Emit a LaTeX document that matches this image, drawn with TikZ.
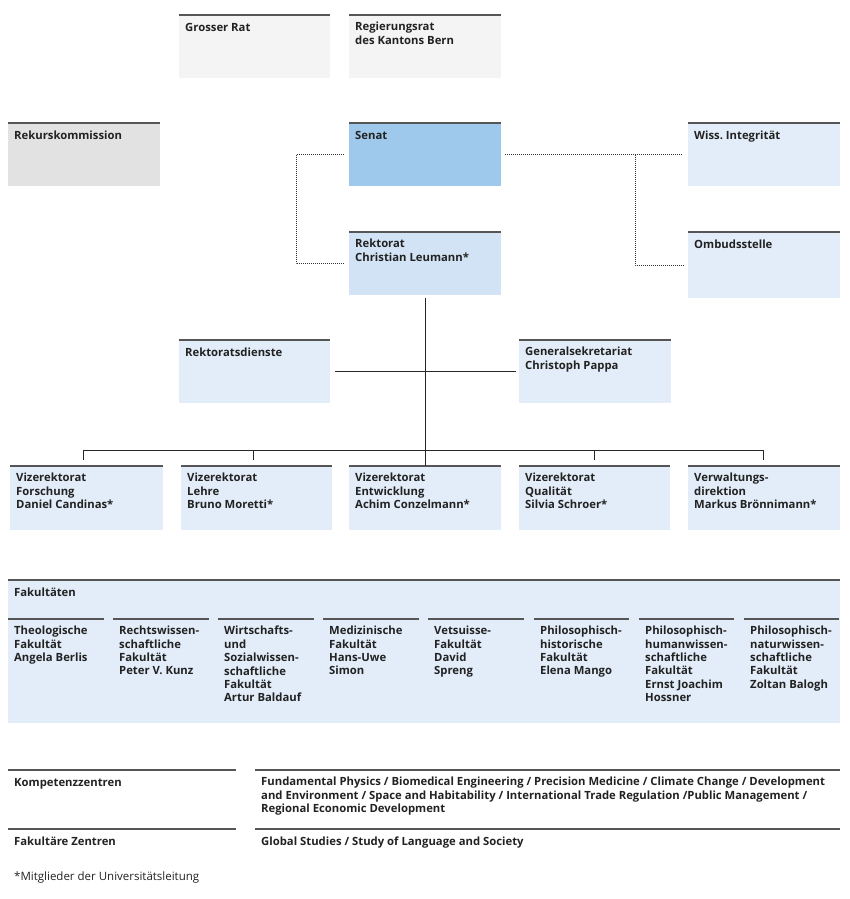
\documentclass[tikz,border=0pt]{standalone}
\usepackage{fontspec}
\setmainfont{Open Sans}
\usetikzlibrary{calc}
\frenchspacing
\definecolor{topl}{HTML}{555555}
\definecolor{grayA}{HTML}{F4F4F4}
\definecolor{grayB}{HTML}{E2E2E2}
\definecolor{senatc}{HTML}{9FC9EC}
\definecolor{rektc}{HTML}{D2E3F5}
\definecolor{lightb}{HTML}{E3EDF9}
\definecolor{txt}{HTML}{222222}
\newcommand\obox[7]{%
  \node[box,fill=#6,minimum width=#4pt,minimum height=#5pt] (#1) at (#2,#3) {};
  \draw[topline] (#1.north west) -- (#1.north east);
  \node[lbl] (#1t) at ([xshift=6pt,yshift=-7pt]#1.north west) {#7};}
\begin{document}
\begin{tikzpicture}[x=1pt,y=-1pt,
  box/.style={anchor=north west,inner sep=0,outer sep=0,draw=none},
  lbl/.style={anchor=north west,inner sep=0,align=left,text=txt,
    font=\fontsize{11.3}{13.4}\selectfont\bfseries\frenchspacing,
    execute at begin node=\rule{0pt}{9pt}},
  topline/.style={draw=topl,line width=1.3pt},
  conn/.style={draw=black!85,line width=0.8pt},
  dots/.style={draw=black!80,line width=1pt,densely dotted},
]
\useasboundingbox (0,0) rectangle (850,899);
% top level
\obox{gr}{179}{15}{151}{63}{grayA}{Grosser Rat}
\obox{rr}{349}{15}{152}{63}{grayA}{Regierungsrat\\des Kantons Bern}
\obox{rk}{8}{123}{152}{63}{grayB}{Rekurskommission}
\obox{senat}{349}{123}{152}{63}{senatc}{Senat}
\obox{wiss}{688}{123}{152}{63}{lightb}{Wiss.\ Integrität}
\obox{rektorat}{349}{232}{152}{63}{rektc}{Rektorat\\Christian Leumann*}
\obox{ombud}{688}{232}{152}{66}{lightb}{Ombudsstelle}
\obox{rd}{179}{340}{151}{63}{lightb}{Rektoratsdienste}
\obox{gs}{519}{340}{152}{63}{lightb}{Generalsekretariat\\Christoph Pappa}
% vice rectorates
\obox{v1}{10}{466}{153}{64}{lightb}{Vizerektorat\\Forschung\\Daniel Candinas*}
\obox{v2}{181}{466}{151}{64}{lightb}{Vizerektorat\\Lehre\\Bruno Moretti*}
\obox{v3}{349}{466}{152}{64}{lightb}{Vizerektorat\\Entwicklung\\Achim Conzelmann*}
\obox{v4}{519}{466}{151}{64}{lightb}{Vizerektorat\\Qualität\\Silvia Schroer*}
\obox{v5}{688}{466}{152}{64}{lightb}{Verwaltungs-\\direktion\\Markus Brönnimann*}
% dotted connectors
\draw[dots] ([xshift=-5pt]senat.west) -- ++(-48,0) |- ([xshift=-5pt]rektorat.west);
\draw[dots] ([xshift=4pt]senat.east) -- ([xshift=-5pt]wiss.west);
\coordinate (dj) at (635,154.5);
\draw[dots] (dj) |- ([xshift=-5pt]ombud.west);
% solid connectors
\draw[conn] ([yshift=-3pt]rektorat.south) -- (v3.north);
\draw[conn] ([xshift=5pt]rd.east) -- ([xshift=-3pt]gs.west);
\draw[conn] ([xshift=-3pt,yshift=16pt]v1.north) -- ([xshift=-1pt,yshift=16pt]v5.north);
\foreach \v/\s in {v1/-3pt,v2/-3pt,v4/0pt,v5/-1pt}
  \draw[conn] ([xshift=\s,yshift=16pt]\v.north) -- ([xshift=\s,yshift=6pt]\v.north);
% faculties
\obox{fak}{8}{580}{832}{143}{lightb}{Fakultäten}
\obox{f1}{8}{619}{96}{100}{lightb}{Theologische\\Fakultät\\Angela Berlis}
\obox{f2}{113}{619}{96}{100}{lightb}{Rechtswissen-\\schaftliche\\Fakultät\\Peter V. Kunz}
\obox{f3}{218}{619}{96}{100}{lightb}{Wirtschafts-\\und\\Sozialwissen-\\schaftliche\\Fakultät\\Artur Baldauf}
\obox{f4}{323}{619}{96}{100}{lightb}{Medizinische\\Fakultät\\Hans-Uwe\\Simon}
\obox{f5}{428}{619}{96}{100}{lightb}{Vetsuisse-\\Fakultät\\David\\Spreng}
\obox{f6}{534}{619}{95}{100}{lightb}{Philosophisch-\\historische\\Fakultät\\Elena Mango}
\obox{f7}{639}{619}{95}{100}{lightb}{Philosophisch-\\humanwissen-\\schaftliche\\Fakultät\\Ernst Joachim\\Hossner}
\obox{f8}{744}{619}{95}{100}{lightb}{Philosophisch-\\naturwissen-\\schaftliche\\Fakultät\\Zoltan Balogh}
% centres
\obox{kzl}{8}{770}{228}{1}{white}{Kompetenzzentren}
\obox{kzr}{255}{770}{585}{1}{white}{Fundamental Physics / Biomedical Engineering / Precision Medicine / Climate Change / Development\\and Environment / Space and Habitability / International Trade Regulation /Public Management /\\Regional Economic Development}
\obox{fzl}{8}{829}{228}{1}{white}{Fakultäre Zentren}
\obox{fzr}{255}{829}{585}{1}{white}{Global Studies / Study of Language and Society}
\node[anchor=base west,inner sep=0,text=txt,font=\fontsize{11.5}{13}\selectfont] (fn) at (14,880) {*Mitglieder der Universitätsleitung};
\end{tikzpicture}
\end{document}
